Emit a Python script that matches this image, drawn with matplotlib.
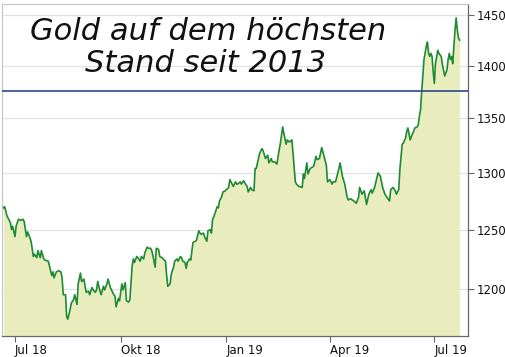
import matplotlib
matplotlib.use("Agg")
import matplotlib.pyplot as plt
import matplotlib.ticker as mticker
import matplotlib.dates as mdates
import pandas as pd
import numpy as np

# ---- data ----
start_date = "2018-07-01"
day_offsets = [-10, -9, -7, -4, -3, -2, 0, 1, 3, 5, 7, 8, 10, 11, 13, 14, 16, 17, 19, 20,
               22, 23, 25, 26, 29, 30, 32, 33, 34, 36, 38, 40, 41, 42, 44, 45, 46, 48, 49, 51,
               52, 54, 55, 57, 58, 60, 61, 62, 64, 65, 67, 68, 70, 71, 72, 74, 75, 77, 78, 80,
               81, 83, 84, 86, 87, 88, 90, 91, 93, 94, 96, 97, 99, 100, 102, 103, 104, 106, 107, 109,
               110, 112, 113, 115, 116, 118, 119, 120, 122, 123, 125, 126, 128, 129, 131, 132, 133, 135, 136, 138,
               139, 141, 142, 144, 145, 146, 148, 149, 150, 152, 153, 154, 155, 157, 158, 160, 161, 162, 164, 165,
               167, 168, 170, 171, 172, 173, 175, 176, 177, 178, 180, 181, 183, 184, 186, 187, 189, 190, 192, 193,
               194, 196, 197, 199, 200, 202, 203, 205, 206, 208, 209, 210, 213, 215, 216, 218, 220, 221, 223, 224,
               226, 228, 229, 231, 233, 234, 236, 237, 239, 241, 242, 244, 245, 247, 250, 251, 252, 254, 255, 257,
               260, 262, 263, 265, 267, 269, 271, 272, 274, 276, 277, 279, 281, 283, 285, 287, 289, 290, 292, 295,
               297, 299, 300, 302, 304, 306, 308, 310, 311, 313, 316, 318, 320, 322, 324, 326, 327, 329, 331, 332,
               334, 335, 337, 338, 340, 341, 342, 344, 345, 347, 348, 350, 351, 352, 353, 354, 355, 356, 358, 359,
               360, 361, 362, 363, 364, 365, 366, 368, 369, 371, 372, 373, 374, 376, 377, 378, 379, 380, 381, 382,
               383, 384, 385, 386, 387]
gold_price = [1269, 1270, 1262, 1256, 1250, 1253, 1244, 1253, 1259, 1258, 1259, 1257, 1244, 1248, 1243, 1240, 1227, 1229, 1226, 1232,
              1226, 1232, 1225, 1224, 1223, 1219, 1211, 1214, 1209, 1214, 1215, 1214, 1209, 1195, 1195, 1177, 1175, 1183, 1188, 1191,
              1195, 1187, 1204, 1213, 1206, 1208, 1202, 1197, 1198, 1195, 1201, 1199, 1197, 1199, 1206, 1198, 1195, 1202, 1199, 1204,
              1208, 1201, 1199, 1195, 1194, 1185, 1192, 1190, 1204, 1199, 1205, 1190, 1189, 1191, 1219, 1225, 1222, 1227, 1226, 1223,
              1227, 1225, 1230, 1235, 1234, 1234, 1232, 1228, 1218, 1234, 1233, 1227, 1226, 1225, 1223, 1211, 1202, 1204, 1212, 1218,
              1223, 1225, 1223, 1227, 1226, 1223, 1222, 1217, 1222, 1225, 1224, 1232, 1239, 1240, 1241, 1249, 1247, 1246, 1247, 1244,
              1240, 1249, 1250, 1247, 1259, 1261, 1267, 1270, 1269, 1275, 1279, 1283, 1284, 1285, 1287, 1294, 1290, 1288, 1292, 1290,
              1290, 1292, 1290, 1293, 1291, 1288, 1283, 1287, 1285, 1284, 1304, 1304, 1318, 1322, 1320, 1313, 1316, 1309, 1313, 1310,
              1310, 1308, 1315, 1327, 1342, 1336, 1326, 1330, 1328, 1330, 1318, 1292, 1290, 1288, 1287, 1299, 1295, 1309, 1299, 1304,
              1306, 1315, 1312, 1313, 1323, 1315, 1307, 1292, 1294, 1290, 1292, 1292, 1300, 1309, 1297, 1290, 1279, 1276, 1277, 1275,
              1273, 1278, 1287, 1281, 1284, 1272, 1281, 1285, 1282, 1287, 1300, 1297, 1287, 1281, 1278, 1275, 1285, 1287, 1284, 1281,
              1285, 1303, 1326, 1327, 1332, 1338, 1341, 1330, 1333, 1338, 1341, 1342, 1344, 1352, 1358, 1375, 1390, 1406, 1419, 1423,
              1412, 1409, 1412, 1409, 1394, 1383, 1402, 1415, 1412, 1409, 1401, 1396, 1390, 1396, 1406, 1412, 1406, 1409, 1402, 1419,
              1435, 1447, 1435, 1427, 1425]
reference_level = 1376
y_ticks = [1200, 1250, 1300, 1350, 1400, 1450]
x_tick_dates = ["2018-07-01", "2018-10-01", "2019-01-01", "2019-04-01", "2019-07-01"]
x_tick_labels = ["Jul 18", "Okt 18", "Jan 19", "Apr 19", "Jul 19"]
title_lines = ["Gold auf dem höchsten", "Stand seit 2013"]

# ---- figure ----
W, H, DPI = 506, 357, 100
fig = plt.figure(figsize=(W / DPI, H / DPI), dpi=DPI)
fig.patch.set_facecolor("white")

ax = fig.add_axes([2 / W, (H - 336) / H, (468 - 2) / W, (336 - 4) / H])
ax.set_facecolor("white")

base = pd.Timestamp(start_date)
dates = base + pd.to_timedelta(day_offsets, unit="D")
prices = np.array(gold_price, dtype=float)

ymin, ymax = 1161.4, 1461
ax.set_yscale("log")
ax.set_ylim(ymin, ymax)
ax.set_xlim(base - pd.Timedelta(days=11.3), base + pd.Timedelta(days=394.3))

for t in y_ticks:
    ax.axhline(t, color="#e2e2e2", lw=0.9, zorder=0)

ax.fill_between(dates, prices, ymin, color="#e9edbd", lw=0, zorder=1)
ax.plot(dates, prices, color="#1e8a32", lw=1.2, zorder=3)
ax.axhline(reference_level, color="#2e4593", lw=1.2, zorder=4)

ax.yaxis.set_major_locator(mticker.FixedLocator(y_ticks))
ax.yaxis.set_major_formatter(mticker.FixedFormatter([str(t) for t in y_ticks]))
ax.yaxis.set_minor_locator(mticker.NullLocator())
ax.yaxis.tick_right()
ax.tick_params(axis="y", which="major", direction="out", length=4, width=0.8,
               color="#666666", labelsize=8.5, pad=2, labelcolor="#111111")

xt = [mdates.date2num(pd.Timestamp(d)) for d in x_tick_dates]
ax.set_xticks(xt)
ax.set_xticklabels(x_tick_labels)
ax.xaxis.set_minor_locator(mticker.NullLocator())
ax.tick_params(axis="x", which="major", direction="out", length=4, width=0.8,
               color="#666666", labelsize=8.5, pad=2, labelcolor="#111111")
for lbl in ax.get_xticklabels():
    lbl.set_horizontalalignment("left")

ax.spines["right"].set_color("#666666")
ax.spines["bottom"].set_color("#666666")
ax.spines["left"].set_color("#c8c8c8")
ax.spines["top"].set_color("#c8c8c8")
for s in ax.spines.values():
    s.set_linewidth(0.9)

for line, xc, ybase in zip(title_lines, [208, 206], [40, 72]):
    fig.text(xc / W, 1 - ybase / H, line, ha="center", va="baseline",
             fontsize=22, family="DejaVu Sans", style="italic", weight="normal",
             color="#111111")

fig.savefig("out.png", dpi=DPI, facecolor="white")
